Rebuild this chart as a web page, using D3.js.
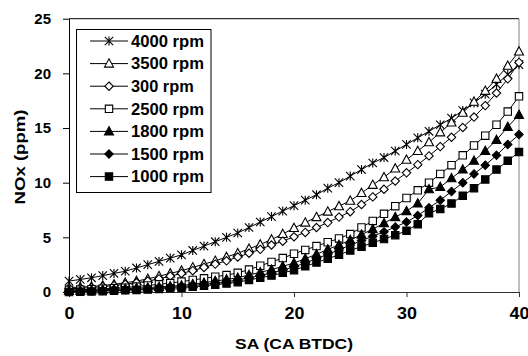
<!DOCTYPE html>
<html>
<head>
<meta charset="utf-8">
<script src="https://cdn.jsdelivr.net/npm/d3@7"></script>
<style>
  body { margin: 0; background: #fff; }
  text { font-family: "Liberation Sans", Arial, sans-serif; font-weight: bold; fill: #000; }
</style>
</head>
<body>
<div id="chart"></div>
<script>
// spark advance, 0..40 deg CA BTDC
const sa = d3.range(0, 41);

const rpm4000 = [1.0, 1.15, 1.3, 1.5, 1.7, 1.9, 2.2, 2.5, 2.8, 3.1, 3.4, 3.8, 4.2, 4.6, 5.0, 5.4, 5.9, 6.4, 6.9, 7.4,
  7.9, 8.4, 8.9, 9.5, 10.0, 10.6, 11.2, 11.8, 12.3, 12.9, 13.5, 14.1, 14.7, 15.3, 15.9, 16.6, 17.3, 18.1, 19.0, 19.9, 20.8];
const rpm3500 = [0.4, 0.45, 0.5, 0.6, 0.7, 0.85, 1.0, 1.2, 1.45, 1.7, 1.95, 2.25, 2.55, 2.85, 3.2, 3.55, 3.95, 4.35, 4.8, 5.3,
  5.85, 6.35, 6.85, 7.35, 7.85, 8.35, 9.05, 9.8, 10.5, 11.3, 12.1, 12.9, 13.7, 14.6, 15.5, 16.4, 17.4, 18.4, 19.5, 20.7, 22.0];
const rpm300 = [0.3, 0.35, 0.4, 0.5, 0.6, 0.7, 0.85, 1.0, 1.2, 1.45, 1.7, 1.95, 2.25, 2.55, 2.85, 3.2, 3.55, 3.9, 4.3, 4.65,
  5.05, 5.45, 5.9, 6.35, 6.85, 7.35, 8.0, 8.7, 9.4, 10.15, 10.9, 11.65, 12.45, 13.3, 14.15, 15.05, 16.0, 17.05, 18.2, 19.5, 21.0];
const rpm2500 = [0.2, 0.22, 0.25, 0.3, 0.35, 0.4, 0.5, 0.6, 0.7, 0.82, 0.95, 1.1, 1.25, 1.4, 1.55, 1.75, 2.05, 2.4, 2.75, 3.1,
  3.5, 3.85, 4.2, 4.55, 4.9, 5.3, 5.9, 6.5, 7.15, 7.85, 8.6, 9.3, 10.0, 10.8, 11.6, 12.5, 13.4, 14.3, 15.3, 16.5, 17.9];
const rpm1800 = [0.1, 0.12, 0.15, 0.2, 0.25, 0.3, 0.35, 0.4, 0.47, 0.53, 0.6, 0.72, 0.85, 1.0, 1.15, 1.3, 1.55, 1.8, 2.05, 2.35,
  2.65, 3.05, 3.45, 3.9, 4.3, 4.75, 5.25, 5.75, 6.3, 6.85, 7.4, 8.1, 9.4, 9.6, 10.4, 11.2, 12.0, 12.9, 13.9, 15.1, 16.2];
const rpm1500 = [0.05, 0.07, 0.1, 0.13, 0.17, 0.2, 0.25, 0.3, 0.36, 0.43, 0.5, 0.6, 0.7, 0.82, 0.95, 1.1, 1.3, 1.5, 1.75, 2.0,
  2.3, 2.65, 3.05, 3.45, 3.85, 4.3, 4.7, 5.1, 5.5, 5.95, 6.4, 7.0, 7.7, 8.4, 9.2, 10.0, 10.8, 11.6, 12.5, 13.5, 14.4];
const rpm1000 = [0.0, 0.02, 0.05, 0.08, 0.11, 0.15, 0.19, 0.23, 0.28, 0.34, 0.4, 0.48, 0.57, 0.67, 0.78, 0.9, 1.1, 1.3, 1.5, 1.75,
  2.0, 2.35, 2.7, 3.05, 3.4, 3.8, 4.15, 4.5, 4.85, 5.2, 5.6, 6.2, 7.2, 7.6, 8.1, 8.8, 9.5, 10.3, 11.2, 12.0, 12.8];

const seriesNames = ['4000 rpm', '3500 rpm', '300 rpm', '2500 rpm', '1800 rpm', '1500 rpm', '1000 rpm'];
const seriesValues = [rpm4000, rpm3500, rpm300, rpm2500, rpm1800, rpm1500, rpm1000];
const markerKinds = ['star', 'triangle', 'diamond', 'square', 'triangle', 'diamond', 'square'];
const markerFilled = [false, false, false, false, true, true, true];

const xTicks = [0, 10, 20, 30, 40];
const yTicks = [0, 5, 10, 15, 20, 25];

const W = 528, H = 356;
const margin = {top: 18.7, right: 9, bottom: 64, left: 69};

const svg = d3.select('#chart').append('svg')
  .attr('width', W)
  .attr('height', H);

svg.append('rect').attr('width', W).attr('height', H).attr('fill', '#fff');

const x = d3.scaleLinear().domain([0, 40]).range([margin.left, W - margin.right]);
const y = d3.scaleLinear().domain([0, 25]).range([H - margin.bottom, margin.top]);

// plot frame (top + right)
svg.append('line')
  .attr('x1', x(0)).attr('x2', x(40)).attr('y1', y(25)).attr('y2', y(25))
  .attr('stroke', '#000').attr('stroke-width', 1);
svg.append('line')
  .attr('x1', x(40)).attr('x2', x(40)).attr('y1', y(25)).attr('y2', y(0))
  .attr('stroke', '#808080').attr('stroke-width', 1);

// axes
const xAxis = svg.append('g')
  .attr('transform', 'translate(0,' + y(0) + ')')
  .call(d3.axisBottom(x).tickValues(xTicks).tickSize(5).tickPadding(11).tickSizeOuter(0));
xAxis.select('.domain').attr('stroke', '#333');
xAxis.selectAll('.tick line').attr('stroke', '#333');
xAxis.selectAll('text')
  .style('font-size', '16px')
  .attr('fill', '#000')
  .attr('transform', 'scale(1.12,1)');

const yAxis = svg.append('g')
  .attr('transform', 'translate(' + x(0) + ',0)')
  .call(d3.axisLeft(y).tickValues(yTicks).tickSize(6).tickPadding(12).tickSizeOuter(0));
yAxis.select('.domain').attr('stroke', '#000');
yAxis.selectAll('.tick line').attr('stroke', '#000');
yAxis.selectAll('text')
  .style('font-size', '15px')
  .attr('fill', '#000');

// axis titles
svg.append('text')
  .attr('x', x(20)).attr('y', 349)
  .attr('text-anchor', 'middle')
  .style('font-size', '15.5px')
  .attr('textLength', 118).attr('lengthAdjust', 'spacingAndGlyphs')
  .text('SA (CA BTDC)');

svg.append('text')
  .attr('transform', 'translate(25,157) rotate(-90)')
  .attr('text-anchor', 'middle')
  .style('font-size', '15.5px')
  .attr('textLength', 95).attr('lengthAdjust', 'spacingAndGlyphs')
  .text('NOx (ppm)');

// marker shapes
function markerPath(kind) {
  if (kind === 'star') return 'M0,-4.5V4.5M-4.2,-4.2L4.2,4.2M-4.2,4.2L4.2,-4.2';
  if (kind === 'triangle') return 'M0,-4.8L4.5,3.5L-4.5,3.5Z';
  if (kind === 'diamond') return 'M0,-4.2L4.2,0L0,4.2L-4.2,0Z';
  return 'M-3.7,-3.7H3.7V3.7H-3.7Z';
}

const line = d3.line()
  .x((d, i) => x(sa[i]))
  .y(d => y(d));

seriesValues.forEach((vals, s) => {
  const g = svg.append('g');
  g.append('path')
    .datum(vals)
    .attr('d', line)
    .attr('fill', 'none')
    .attr('stroke', '#000')
    .attr('stroke-width', 1);
  g.selectAll('path.mk')
    .data(vals)
    .enter().append('path')
    .attr('class', 'mk')
    .attr('d', markerPath(markerKinds[s]))
    .attr('transform', (d, i) => 'translate(' + x(sa[i]) + ',' + y(d) + ')')
    .attr('fill', markerFilled[s] ? '#000' : '#fff')
    .attr('stroke', '#000')
    .attr('stroke-width', 1.1);
});

// legend
const legend = svg.append('g');
legend.append('rect')
  .attr('x', 76.5).attr('y', 29.5)
  .attr('width', 134.5).attr('height', 163)
  .attr('fill', '#fff').attr('stroke', '#000').attr('stroke-width', 1);

const legendLens = [73, 73, 62.7, 73, 73, 73, 73];
seriesNames.forEach((name, s) => {
  const ry = 41 + s * 22.6;
  const row = legend.append('g').attr('transform', 'translate(0,' + ry + ')');
  row.append('line')
    .attr('x1', 90).attr('x2', 128).attr('y1', 0).attr('y2', 0)
    .attr('stroke', '#000').attr('stroke-width', 1);
  row.append('path')
    .attr('d', markerPath(markerKinds[s]))
    .attr('transform', 'translate(109,0)')
    .attr('fill', markerFilled[s] ? '#000' : '#fff')
    .attr('stroke', '#000').attr('stroke-width', 1.1);
  row.append('text')
    .attr('x', 131).attr('y', 5.8)
    .style('font-size', '16px')
    .attr('textLength', legendLens[s]).attr('lengthAdjust', 'spacingAndGlyphs')
    .text(name);
});
</script>
</body>
</html>
